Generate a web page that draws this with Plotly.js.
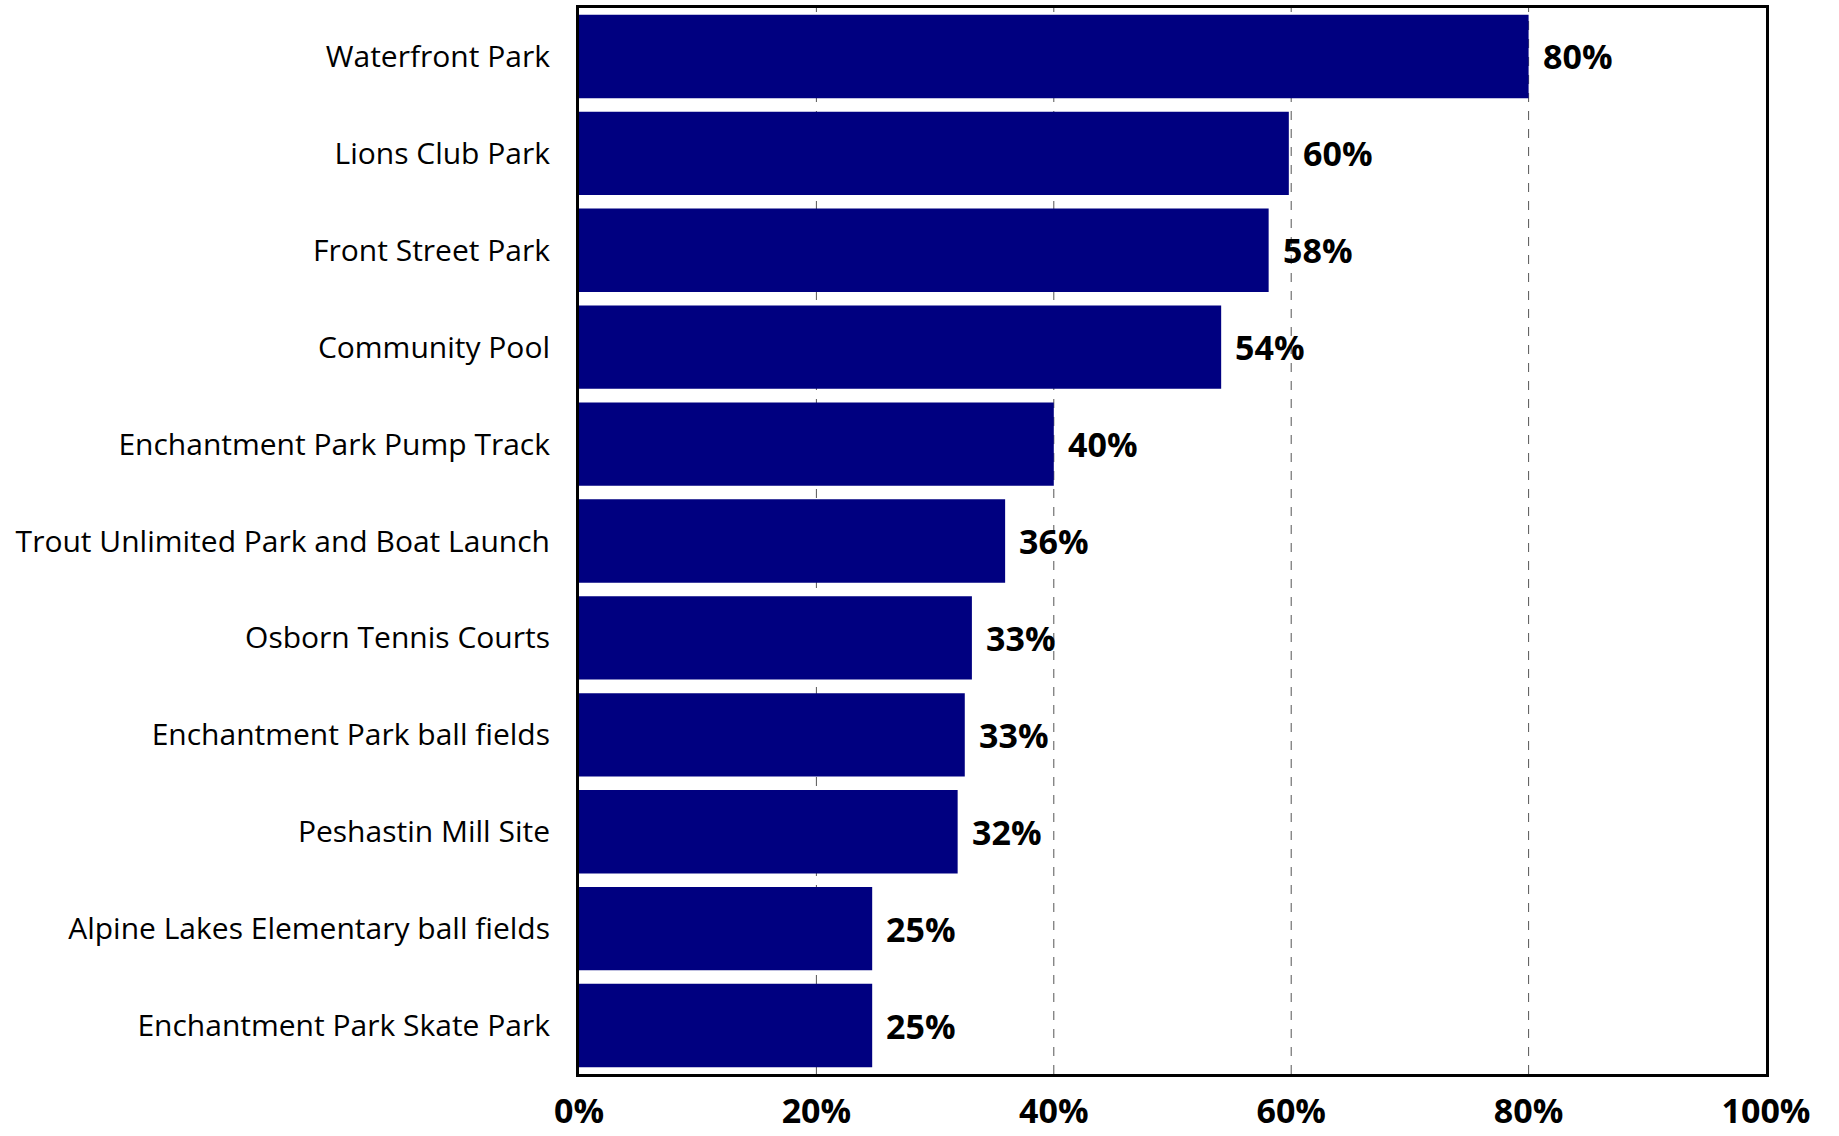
<!DOCTYPE html>
<html>
<head>
<meta charset="utf-8">
<script src="https://cdn.plot.ly/plotly-3.0.1.min.js"></script>
<style>html,body{margin:0;padding:0;background:#fff;}#chart{width:1839px;height:1136px;}</style>
</head>
<body>
<div id="chart"></div>
<script>
const categories = [
  "Waterfront Park",
  "Lions Club Park",
  "Front Street Park",
  "Community Pool",
  "Enchantment Park Pump Track",
  "Trout Unlimited Park and Boat Launch",
  "Osborn Tennis Courts",
  "Enchantment Park ball fields",
  "Peshastin Mill Site",
  "Alpine Lakes Elementary ball fields",
  "Enchantment Park Skate Park"
];
const values = [0.80, 0.598, 0.581, 0.541, 0.40, 0.359, 0.331, 0.325, 0.319, 0.247, 0.247];
const valueLabels = ["80%", "60%", "58%", "54%", "40%", "36%", "33%", "33%", "32%", "25%", "25%"];
const tickValues = [0, 0.2, 0.4, 0.6, 0.8, 1.0];
const tickLabels = ["0%", "20%", "40%", "60%", "80%", "100%"];

const trace = {
  type: "bar",
  orientation: "h",
  x: values,
  y: categories,
  marker: {color: "#000080", line: {width: 0}},
  hoverinfo: "none"
};

const annotations = values.map((v, i) => ({
  x: v, y: categories[i], xref: "x", yref: "y",
  text: valueLabels[i], showarrow: false,
  xanchor: "left", yanchor: "middle", xshift: 12,
  font: {family: "Open Sans", size: 34, color: "#000", weight: 700}
}));

const gridShapes = tickValues.slice(1, 5).map(t => ({
  type: "line", xref: "x", yref: "paper", x0: t, x1: t, y0: 0, y1: 1,
  line: {color: "#555", width: 1, dash: "dash"}, layer: "below"
}));

const layout = {
  width: 1839, height: 1136,
  margin: {l: 579, r: 73, t: 8, b: 62, pad: 0},
  paper_bgcolor: "#fff", plot_bgcolor: "#fff",
  showlegend: false,
  bargap: 0.14,
  xaxis: {
    range: [0, 1], tickvals: tickValues, ticktext: tickLabels,
    showgrid: false, zeroline: false,
    showline: true, linecolor: "#000", linewidth: 3, mirror: true,
    ticks: "", ticklabelstandoff: 5,
    tickfont: {family: "Open Sans", size: 34, color: "#000", weight: 700},
    fixedrange: true
  },
  yaxis: {
    categoryorder: "array", categoryarray: categories.slice().reverse(),
    autorange: false, range: [-0.5, categories.length - 0.5],
    showgrid: false, zeroline: false,
    showline: true, linecolor: "#000", linewidth: 3, mirror: true,
    ticks: "", ticklabelstandoff: 20,
    tickfont: {family: "Open Sans", size: 30, color: "#000"},
    fixedrange: true
  },
  shapes: gridShapes,
  annotations: annotations
};

Plotly.newPlot("chart", [trace], layout, {displayModeBar: false, staticPlot: true});
</script>
</body>
</html>
